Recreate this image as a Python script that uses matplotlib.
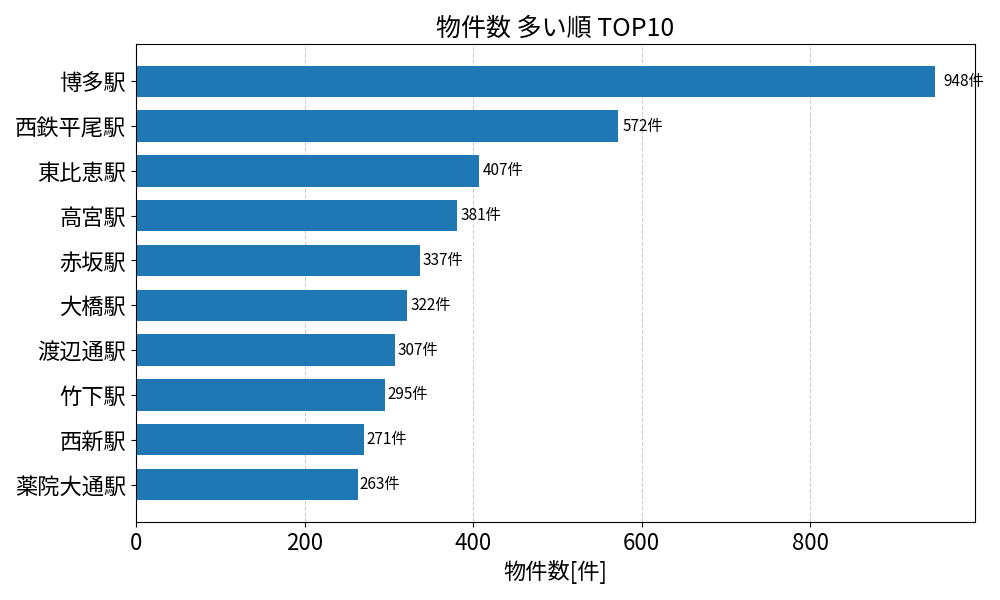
import matplotlib
matplotlib.use("Agg")
import matplotlib.pyplot as plt

plt.rcParams['font.family'] = ['Noto Sans CJK JP', 'DejaVu Sans']

stations = ["博多駅", "西鉄平尾駅", "東比恵駅", "高宮駅", "赤坂駅", "大橋駅", "渡辺通駅", "竹下駅", "西新駅", "薬院大通駅"]
counts = [948, 572, 407, 381, 337, 322, 307, 295, 271, 263]

fig, ax = plt.subplots(figsize=(10, 6), dpi=100)
names = stations[::-1]
vals = counts[::-1]
bars = ax.barh(names, vals, height=0.7, color="#1f77b4")
for i, v in enumerate(vals):
    ax.text(v * 1.01, i, f"{v}件", va="center", ha="left", fontsize=11)

ax.set_xlim(0, max(counts) * 1.05)
ax.set_title("物件数 多い順 TOP10", fontsize=18)
ax.set_xlabel("物件数[件]", fontsize=16)
ax.tick_params(axis='both', labelsize=16)
ax.grid(axis='x', linestyle='--', alpha=0.6)
ax.set_axisbelow(True)
fig.subplots_adjust(left=0.136, right=0.975, top=0.927, bottom=0.13)
fig.savefig("out.png")
